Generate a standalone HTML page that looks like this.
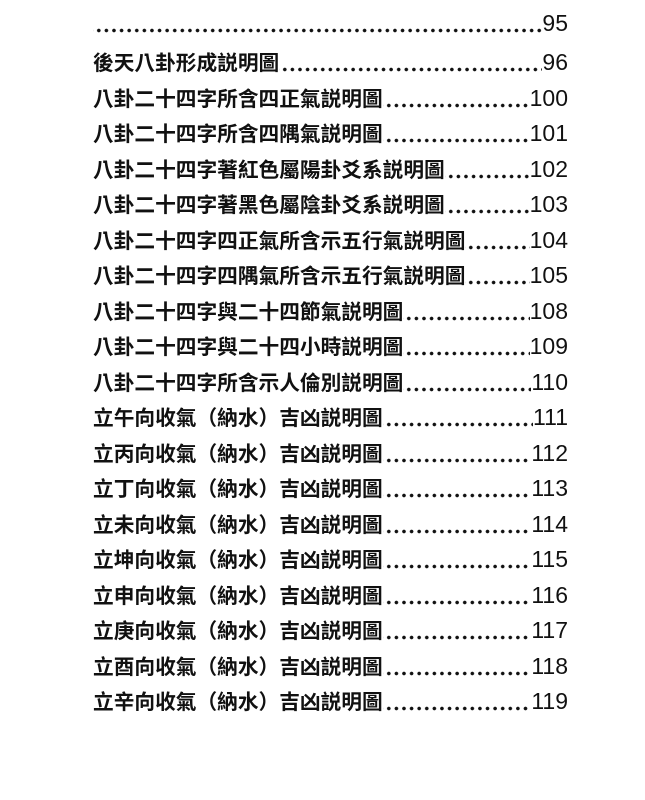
<!DOCTYPE html>
<html><head><meta charset="utf-8"><style>
html,body{margin:0;padding:0;background:#fff;}
body{width:645px;height:800px;position:relative;overflow:hidden;font-family:"Liberation Sans","Noto Sans CJK TC",sans-serif;color:#111;}
.r{position:absolute;left:93px;width:475px;height:28px;display:flex;align-items:flex-end;font-size:20.7px;line-height:28px;font-weight:700;}
.t{white-space:nowrap;}
.d{flex:1;height:28px;background-image:radial-gradient(circle,#111 1.6px,transparent 2px);background-size:7.6px 5px;background-repeat:repeat-x;background-position:2px 17px;}
.n{font-family:"Liberation Sans",sans-serif;font-weight:400;font-size:23px;white-space:nowrap;line-height:24px;height:24px;position:relative;top:-4px;}
</style></head><body>
<div class="r" style="top:11px"><span class="d"></span><span class="n">95</span></div>
<div class="r" style="top:50px"><span class="t">後天八卦形成説明圖</span><span class="d"></span><span class="n">96</span></div>
<div class="r" style="top:86px"><span class="t">八卦二十四字所含四正氣説明圖</span><span class="d"></span><span class="n">100</span></div>
<div class="r" style="top:121px"><span class="t">八卦二十四字所含四隅氣説明圖</span><span class="d"></span><span class="n">101</span></div>
<div class="r" style="top:157px"><span class="t">八卦二十四字著紅色屬陽卦爻系説明圖</span><span class="d"></span><span class="n">102</span></div>
<div class="r" style="top:192px"><span class="t">八卦二十四字著黑色屬陰卦爻系説明圖</span><span class="d"></span><span class="n">103</span></div>
<div class="r" style="top:228px"><span class="t">八卦二十四字四正氣所含示五行氣説明圖</span><span class="d"></span><span class="n">104</span></div>
<div class="r" style="top:263px"><span class="t">八卦二十四字四隅氣所含示五行氣説明圖</span><span class="d"></span><span class="n">105</span></div>
<div class="r" style="top:299px"><span class="t">八卦二十四字與二十四節氣説明圖</span><span class="d"></span><span class="n">108</span></div>
<div class="r" style="top:334px"><span class="t">八卦二十四字與二十四小時説明圖</span><span class="d"></span><span class="n">109</span></div>
<div class="r" style="top:370px"><span class="t">八卦二十四字所含示人倫別説明圖</span><span class="d"></span><span class="n">110</span></div>
<div class="r" style="top:405px"><span class="t">立午向收氣（納水）吉凶説明圖</span><span class="d"></span><span class="n">111</span></div>
<div class="r" style="top:441px"><span class="t">立丙向收氣（納水）吉凶説明圖</span><span class="d"></span><span class="n">112</span></div>
<div class="r" style="top:476px"><span class="t">立丁向收氣（納水）吉凶説明圖</span><span class="d"></span><span class="n">113</span></div>
<div class="r" style="top:512px"><span class="t">立未向收氣（納水）吉凶説明圖</span><span class="d"></span><span class="n">114</span></div>
<div class="r" style="top:547px"><span class="t">立坤向收氣（納水）吉凶説明圖</span><span class="d"></span><span class="n">115</span></div>
<div class="r" style="top:583px"><span class="t">立申向收氣（納水）吉凶説明圖</span><span class="d"></span><span class="n">116</span></div>
<div class="r" style="top:618px"><span class="t">立庚向收氣（納水）吉凶説明圖</span><span class="d"></span><span class="n">117</span></div>
<div class="r" style="top:654px"><span class="t">立酉向收氣（納水）吉凶説明圖</span><span class="d"></span><span class="n">118</span></div>
<div class="r" style="top:689px"><span class="t">立辛向收氣（納水）吉凶説明圖</span><span class="d"></span><span class="n">119</span></div>
</body></html>
